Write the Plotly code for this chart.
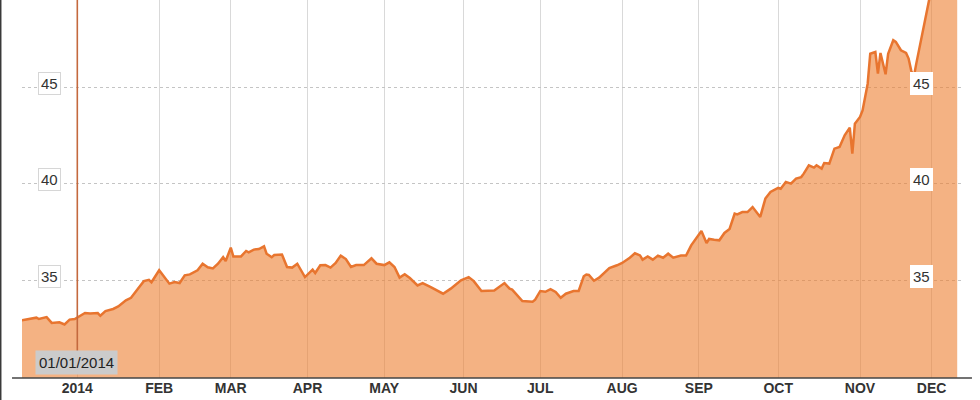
import plotly.graph_objects as go

# ---- data ----
dates = [
    "2013-12-10", "2013-12-16", "2013-12-17", "2013-12-20", "2013-12-22", "2013-12-25",
    "2013-12-27", "2013-12-29", "2013-12-31", "2014-01-02", "2014-01-04", "2014-01-06",
    "2014-01-09", "2014-01-10", "2014-01-12", "2014-01-15", "2014-01-17", "2014-01-20",
    "2014-01-22", "2014-01-25", "2014-01-27", "2014-01-29", "2014-01-30", "2014-02-02",
    "2014-02-04", "2014-02-06", "2014-02-08", "2014-02-10", "2014-02-12", "2014-02-14",
    "2014-02-17", "2014-02-19", "2014-02-21", "2014-02-23", "2014-02-25", "2014-02-27",
    "2014-02-28", "2014-03-02", "2014-03-03", "2014-03-06", "2014-03-08", "2014-03-09",
    "2014-03-11", "2014-03-13", "2014-03-15", "2014-03-16", "2014-03-18", "2014-03-19",
    "2014-03-22", "2014-03-24", "2014-03-26", "2014-03-28", "2014-03-31", "2014-04-03",
    "2014-04-04", "2014-04-06", "2014-04-08", "2014-04-10", "2014-04-12", "2014-04-14",
    "2014-04-16", "2014-04-18", "2014-04-20", "2014-04-23", "2014-04-26", "2014-04-28",
    "2014-05-01", "2014-05-03", "2014-05-05", "2014-05-07", "2014-05-09", "2014-05-11",
    "2014-05-14", "2014-05-16", "2014-05-19", "2014-05-22", "2014-05-24", "2014-05-27",
    "2014-05-29", "2014-05-31", "2014-06-03", "2014-06-05", "2014-06-08", "2014-06-11",
    "2014-06-13", "2014-06-17", "2014-06-19", "2014-06-20", "2014-06-22", "2014-06-24",
    "2014-06-28", "2014-06-29", "2014-07-01", "2014-07-03", "2014-07-05", "2014-07-07",
    "2014-07-09", "2014-07-11", "2014-07-14", "2014-07-16", "2014-07-18", "2014-07-19",
    "2014-07-20", "2014-07-22", "2014-07-24", "2014-07-28", "2014-07-31", "2014-08-02",
    "2014-08-05", "2014-08-07", "2014-08-09", "2014-08-10", "2014-08-12", "2014-08-14",
    "2014-08-16", "2014-08-18", "2014-08-20", "2014-08-22", "2014-08-25", "2014-08-27",
    "2014-08-29", "2014-08-31", "2014-09-02", "2014-09-04", "2014-09-05", "2014-09-07",
    "2014-09-09", "2014-09-11", "2014-09-13", "2014-09-15", "2014-09-16", "2014-09-18",
    "2014-09-20", "2014-09-22", "2014-09-23", "2014-09-25", "2014-09-27", "2014-09-29",
    "2014-10-02", "2014-10-03", "2014-10-05", "2014-10-07", "2014-10-09", "2014-10-11",
    "2014-10-12", "2014-10-14", "2014-10-16", "2014-10-17", "2014-10-19", "2014-10-20",
    "2014-10-22", "2014-10-24", "2014-10-26", "2014-10-27", "2014-10-28", "2014-10-30",
    "2014-10-31", "2014-11-01", "2014-11-03", "2014-11-04", "2014-11-06", "2014-11-07",
    "2014-11-09", "2014-11-10", "2014-11-11", "2014-11-13", "2014-11-14", "2014-11-16",
    "2014-11-17", "2014-11-19", "2014-11-21", "2014-11-22", "2014-11-23", "2014-11-24",
    "2014-11-25", "2014-11-30", "2014-12-03", "2014-12-06", "2014-12-08", "2014-12-11",
]
prices = [
    32.93, 33.07, 33.00, 33.10, 32.80, 32.83,
    32.72, 32.97, 33.00, 33.14, 33.31, 33.28,
    33.31, 33.17, 33.41, 33.52, 33.65, 33.97,
    34.10, 34.62, 34.96, 35.03, 34.90, 35.52,
    35.17, 34.83, 34.91, 34.86, 35.26, 35.31,
    35.52, 35.86, 35.68, 35.62, 35.86, 36.20,
    36.00, 36.69, 36.24, 36.24, 36.52, 36.45,
    36.59, 36.62, 36.76, 36.38, 36.20, 36.31,
    36.34, 35.69, 35.66, 35.86, 35.17, 35.55,
    35.38, 35.78, 35.79, 35.66, 35.90, 36.28,
    36.10, 35.69, 35.79, 35.79, 36.14, 35.86,
    35.79, 35.93, 35.69, 35.14, 35.32, 35.12,
    34.74, 34.86, 34.66, 34.45, 34.31, 34.57,
    34.79, 35.00, 35.17, 34.96, 34.45, 34.45,
    34.48, 34.86, 34.57, 34.52, 34.22, 33.93,
    33.90, 34.00, 34.45, 34.41, 34.55, 34.40,
    34.10, 34.31, 34.45, 34.45, 35.21, 35.30,
    35.28, 34.98, 35.14, 35.63, 35.78, 35.90,
    36.17, 36.40, 36.29, 36.07, 36.24, 36.07,
    36.28, 36.17, 36.38, 36.17, 36.28, 36.28,
    36.81, 37.21, 37.55, 36.93, 37.14, 37.10,
    37.07, 37.45, 37.66, 38.45, 38.41, 38.53,
    38.53, 38.79, 38.62, 38.28, 39.23, 39.57,
    39.78, 39.74, 40.09, 40.00, 40.26, 40.34,
    40.52, 40.95, 40.83, 40.95, 40.78, 41.07,
    41.04, 41.81, 41.90, 42.24, 42.50, 42.90,
    41.55, 43.10, 43.45, 43.79, 45.17, 46.72,
    46.81, 45.69, 46.76, 45.66, 46.72, 47.42,
    47.33, 46.90, 46.76, 46.47, 45.86, 45.50,
    46.21, 49.49, 50.80, 51.60, 51.20, 52.00,
]

tick_dates = ["2014-01-01", "2014-02-02", "2014-03-02", "2014-04-01", "2014-05-01",
              "2014-06-01", "2014-07-01", "2014-08-02", "2014-09-01", "2014-10-02",
              "2014-11-03", "2014-12-01"]
tick_labels = ["2014", "FEB", "MAR", "APR", "MAY", "JUN", "JUL", "AUG", "SEP",
               "OCT", "NOV", "DEC"]
y_ticks = [35, 40, 45]
marker_date = "2014-01-01"
marker_label = "01/01/2014"

FONT = "Liberation Sans, Arial, Helvetica, sans-serif"

fig = go.Figure()
fig.add_trace(go.Scatter(
    x=dates, y=prices, mode="lines",
    line=dict(color="#e8752f", width=2.5),
    fill="tozeroy", fillcolor="rgba(237,127,48,0.6)",
    hoverinfo="skip", showlegend=False,
))

annotations = []
for v in y_ticks:
    annotations.append(dict(
        x=0.0293, xref="paper", y=v, yref="y", text=str(v), showarrow=False,
        xanchor="center", yanchor="middle", yshift=4,
        font=dict(family=FONT, size=15, color="#333"),
        bgcolor="white", bordercolor="#d6d6d6", borderwidth=1, borderpad=2,
    ))
    annotations.append(dict(
        x=0.9566, xref="paper", y=v, yref="y", text=str(v), showarrow=False,
        xanchor="center", yanchor="middle", yshift=4,
        font=dict(family=FONT, size=15, color="#333"),
        bgcolor="white", bordercolor="white", borderwidth=1, borderpad=2,
    ))

annotations.append(dict(
    x=marker_date, xref="x", y=0.0397, yref="paper", text=marker_label,
    showarrow=False, xanchor="center", yanchor="middle", xshift=-1,
    font=dict(family=FONT, size=15, color="#222"),
    bgcolor="#cbcbcb", borderpad=3,
))

shapes = [
    # vertical marker line at 01/01/2014
    dict(type="line", xref="x", yref="paper", x0=marker_date, x1=marker_date,
         y0=0.071, y1=1.0, line=dict(color="#c4693e", width=1.6)),
    # bottom axis line (extends past plot area)
    dict(type="line", xref="paper", yref="paper", x0=-0.0106, x1=1.0106,
         y0=0, y1=0, line=dict(color="#444", width=1.5)),
    # dark strip at the very left edge
    dict(type="line", xref="paper", yref="paper", x0=-0.0229, x1=-0.0229,
         y0=-0.06, y1=1.0, line=dict(color="#3a3a3a", width=2)),
]

fig.update_layout(
    width=980, height=400,
    margin=dict(l=22, r=18, t=0, b=22),
    paper_bgcolor="white", plot_bgcolor="white",
    font=dict(family=FONT),
    xaxis=dict(
        type="date",
        range=["2013-12-10 09:00", "2014-12-12 21:00"],
        tickvals=tick_dates, ticktext=tick_labels,
        tickfont=dict(family=FONT, size=14, color="#333", weight="bold"),
        ticks="",
        showgrid=True, gridcolor="#d9d9d9", gridwidth=1,
        showline=False, zeroline=False, fixedrange=True,
    ),
    yaxis=dict(
        range=[29.95, 49.5],
        tickvals=y_ticks, showticklabels=False,
        showgrid=True, gridcolor="#c4c4c4", gridwidth=1, griddash="dot",
        showline=False, zeroline=False, fixedrange=True,
    ),
    annotations=annotations,
    shapes=shapes,
)

fig.write_html(
    "out.html",
    config={"displayModeBar": False},
    post_script="document.body.style.margin='0';document.body.style.overflow='hidden';",
)
